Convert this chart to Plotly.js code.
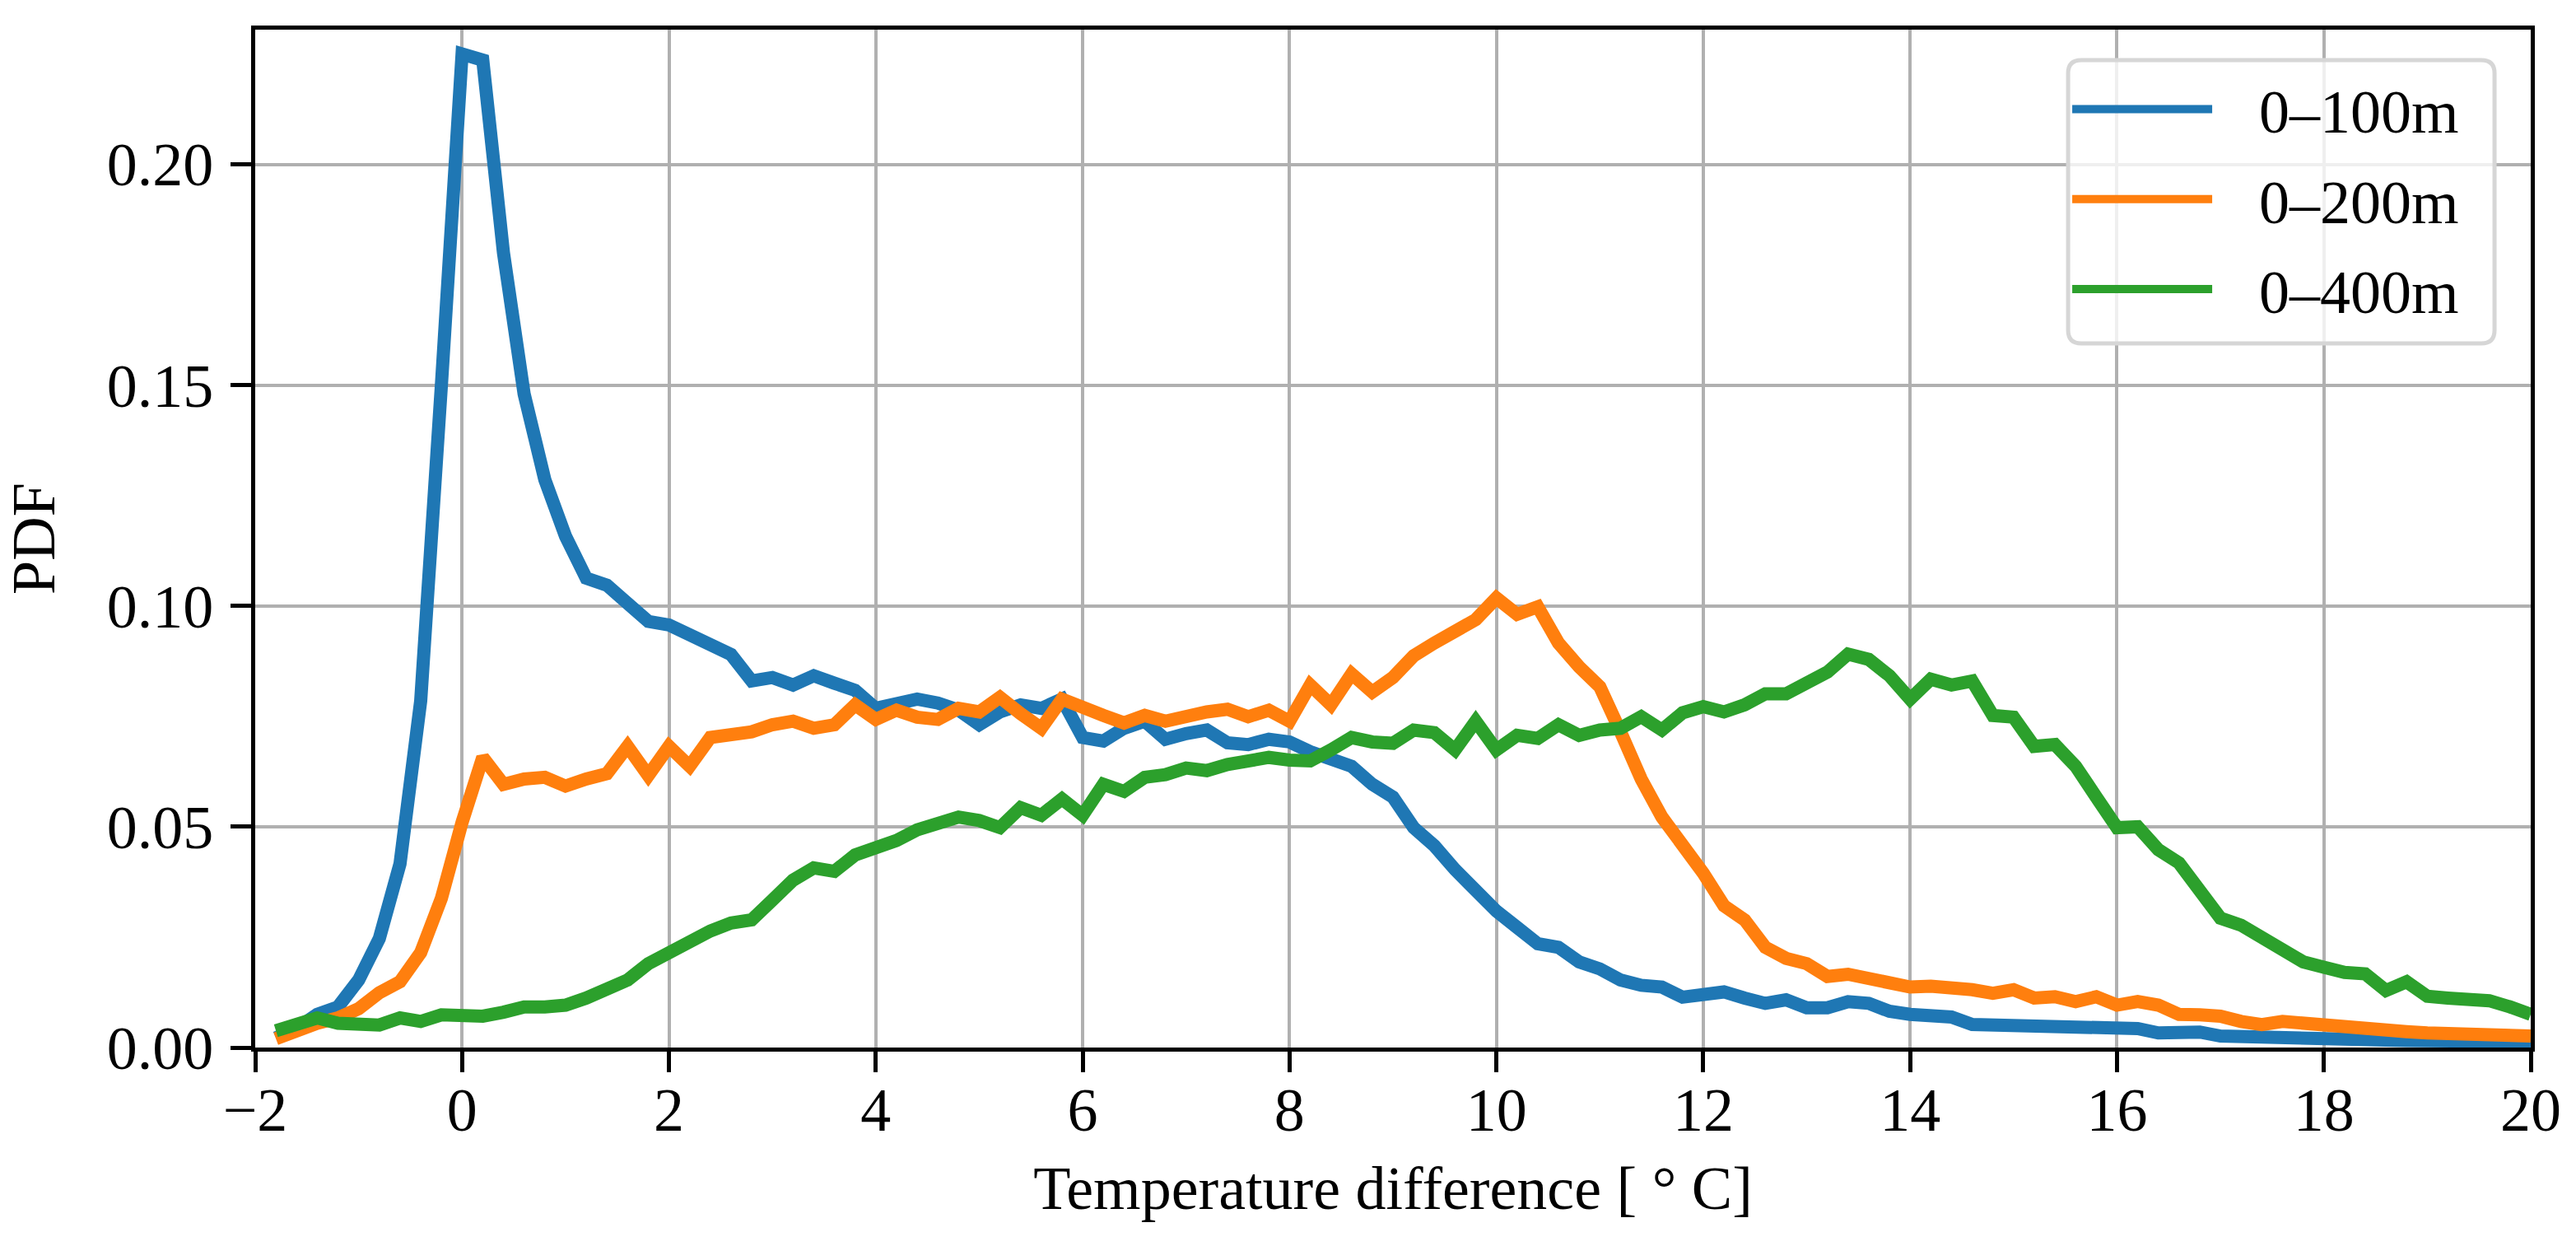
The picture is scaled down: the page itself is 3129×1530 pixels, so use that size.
<!DOCTYPE html>
<html>
<head>
<meta charset="utf-8">
<script src="https://cdn.plot.ly/plotly-3.0.1.min.js"></script>
<style>html,body{margin:0;padding:0;background:#fff;}#chart{width:3129px;height:1530px;}</style>
</head>
<body>
<div id="chart"></div>
<script>
const xValues = [-1.8,-1.6,-1.4,-1.2,-1.0,-0.8,-0.6,-0.4,-0.2,0.0,
  0.2,0.4,0.6,0.8,1.0,1.2,1.4,1.6,1.8,2.0,
  2.2,2.4,2.6,2.8,3.0,3.2,3.4,3.6,3.8,4.0,
  4.2,4.4,4.6,4.8,5.0,5.2,5.4,5.6,5.8,6.0,
  6.2,6.4,6.6,6.8,7.0,7.2,7.4,7.6,7.8,8.0,
  8.2,8.4,8.6,8.8,9.0,9.2,9.4,9.6,9.8,10.0,
  10.2,10.4,10.6,10.8,11.0,11.2,11.4,11.6,11.8,12.0,
  12.2,12.4,12.6,12.8,13.0,13.2,13.4,13.6,13.8,14.0,
  14.2,14.4,14.6,14.8,15.0,15.2,15.4,15.6,15.8,16.0,
  16.2,16.4,16.6,16.8,17.0,17.2,17.4,17.6,17.8,18.0,
  18.2,18.4,18.6,18.8,19.0,19.2,19.4,19.6,19.8,20.0];

const pdf0to100 = [0.0022,0.0043,0.0075,0.0092,0.0153,0.0247,0.0416,0.0785,0.150,0.225,
  0.2236,0.180,0.148,0.1286,0.1158,0.1063,0.1047,0.1010,0.0965,0.0957,
  0.0932,0.0912,0.0890,0.0830,0.0838,0.0821,0.0842,0.0825,0.0809,0.0768,
  0.0776,0.0789,0.0780,0.0764,0.0731,0.0760,0.0776,0.0768,0.0789,0.0702,
  0.0694,0.0723,0.0739,0.0698,0.0711,0.0719,0.0690,0.0686,0.0698,0.0692,
  0.0670,0.0657,0.0637,0.0596,0.0567,0.0498,0.0457,0.0403,0.0354,0.0309,
  0.0272,0.0235,0.0227,0.0194,0.0178,0.0153,0.0141,0.0137,0.0114,0.0118,
  0.0126,0.0112,0.0100,0.0108,0.0090,0.0090,0.0104,0.0100,0.0082,0.0075,
  0.0075,0.0069,0.0052,0.0051,0.0052,0.0051,0.0047,0.0045,0.0043,0.0041,
  0.0043,0.0033,0.0033,0.0035,0.0026,0.0024,0.0023,0.0023,0.0022,0.0021,
  0.0019,0.0018,0.0017,0.0016,0.0016,0.0015,0.0014,0.0014,0.0013,0.0013];

const pdf0to200 = [0.0020,0.0040,0.0055,0.0067,0.0088,0.0124,0.0149,0.0215,0.0338,0.0510,
  0.0657,0.0596,0.0608,0.0612,0.0592,0.0608,0.0620,0.0682,0.0616,0.0682,
  0.0637,0.0702,0.0707,0.0715,0.0731,0.0739,0.0723,0.0731,0.0776,0.0743,
  0.0764,0.0748,0.0743,0.0768,0.0760,0.0793,0.0756,0.0723,0.0789,0.0768,
  0.0752,0.0735,0.0752,0.0739,0.0752,0.0760,0.0766,0.0749,0.0764,0.0739,
  0.0821,0.0776,0.0846,0.0805,0.0838,0.0887,0.0916,0.0940,0.0969,0.1018,
  0.0981,0.0998,0.0916,0.0862,0.0817,0.0715,0.0608,0.0522,0.0460,0.0395,
  0.0321,0.0289,0.0227,0.0202,0.0190,0.0161,0.0166,0.0157,0.0145,0.0137,
  0.0139,0.0137,0.0131,0.0123,0.0131,0.0112,0.0115,0.0104,0.0115,0.0096,
  0.0104,0.0096,0.0075,0.0074,0.0071,0.0059,0.0052,0.0059,0.0055,0.0047,
  0.0041,0.0038,0.0036,0.0036,0.0033,0.0033,0.0032,0.0031,0.0028,0.0026];

const pdf0to400 = [0.0038,0.0055,0.0067,0.0055,0.0055,0.0051,0.0067,0.0059,0.0074,0.0071,
  0.0071,0.0080,0.0092,0.0092,0.0096,0.0112,0.0133,0.0153,0.0190,0.0215,
  0.0243,0.0264,0.0282,0.0289,0.0334,0.0379,0.0407,0.0399,0.0436,0.0452,
  0.0469,0.0493,0.0510,0.0522,0.0514,0.0498,0.0543,0.0526,0.0563,0.0526,
  0.0596,0.0580,0.0612,0.0618,0.0633,0.0627,0.0641,0.0651,0.0657,0.0651,
  0.0649,0.0674,0.0702,0.0692,0.0689,0.0719,0.0713,0.0674,0.0739,0.0674,
  0.0707,0.0700,0.0731,0.0707,0.0719,0.0723,0.0749,0.0719,0.0758,0.0772,
  0.0760,0.0776,0.0801,0.0801,0.0825,0.0850,0.0891,0.0879,0.0842,0.0789,
  0.0834,0.0821,0.0830,0.0752,0.0748,0.0682,0.0686,0.0637,0.0567,0.0498,
  0.0500,0.0448,0.0418,0.0358,0.0293,0.0277,0.0248,0.0219,0.0194,0.0182,
  0.0170,0.0167,0.0129,0.0149,0.0116,0.0112,0.0108,0.0106,0.0092,0.0075];

const seriesNames = ['0\u2013100m','0\u2013200m','0\u2013400m'];
const seriesColors = ['#1f77b4','#ff7f0e','#2ca02c'];
const seriesValues = [pdf0to100, pdf0to200, pdf0to400];

const FONT = 'Liberation Serif, Times New Roman, serif';
const FS = 74;

const traces = seriesValues.map((ys, i) => ({
  type: 'scatter',
  mode: 'lines',
  x: xValues,
  y: ys,
  name: '\u2002\u2009' + seriesNames[i],
  legendgroup: 'g' + i,
  line: {color: seriesColors[i], width: 16, shape: 'linear'},
  hoverinfo: 'skip'
}));

const axisCommon = {
  showgrid: true,
  gridcolor: '#b0b0b0',
  gridwidth: 4,
  zeroline: false,
  showline: true,
  linecolor: '#000',
  linewidth: 5,
  mirror: true,
  ticks: 'outside',
  ticklen: 25,
  tickwidth: 5,
  tickcolor: '#000',
  tickfont: {family: FONT, size: FS, color: '#000'},
  automargin: false
};

// legend frame (rounded, semi-transparent like the original)
const lx0 = 0.7967, lx1 = 0.9841, ly0 = 0.6917, ly1 = 0.9701;
const rx = 16 / 2764, ry = 16 / 1236;
const framePath = `M ${lx0 + rx},${ly1} L ${lx1 - rx},${ly1} Q ${lx1},${ly1} ${lx1},${ly1 - ry} ` +
  `L ${lx1},${ly0 + ry} Q ${lx1},${ly0} ${lx1 - rx},${ly0} L ${lx0 + rx},${ly0} ` +
  `Q ${lx0},${ly0} ${lx0},${ly0 + ry} L ${lx0},${ly1 - ry} Q ${lx0},${ly1} ${lx0 + rx},${ly1} Z`;

const layout = {
  width: 3129,
  height: 1530,
  paper_bgcolor: '#fff',
  plot_bgcolor: '#fff',
  margin: {l: 310, r: 55, t: 36, b: 258},
  font: {family: FONT, size: FS, color: '#000'},
  showlegend: true,
  legend: {
    x: 0.7967, y: 0.966, xanchor: 'left', yanchor: 'top',
    bgcolor: 'rgba(0,0,0,0)',
    borderwidth: 0,
    font: {family: FONT, size: FS, color: '#000'},
    tracegroupgap: 10,
    itemwidth: 170
  },
  shapes: [{
    type: 'path', xref: 'paper', yref: 'paper', layer: 'above',
    path: framePath,
    fillcolor: 'rgba(255,255,255,0.8)',
    line: {color: '#d6d6d6', width: 5}
  }],
  xaxis: Object.assign({}, axisCommon, {
    range: [-2, 20],
    tick0: -2,
    dtick: 2,
    ticklabelstandoff: -18,
    title: {text: 'Temperature difference [ \u00b0 C]', font: {family: FONT, size: FS, color: '#000'}, standoff: 30}
  }),
  yaxis: Object.assign({}, axisCommon, {
    range: [0, 0.2305],
    tick0: 0,
    dtick: 0.05,
    tickformat: '.2f',
    ticklabelstandoff: 6,
    title: {text: 'PDF', font: {family: FONT, size: FS, color: '#000'}, standoff: 40}
  })
};

Plotly.newPlot('chart', traces, layout, {staticPlot: true, displayModeBar: false});
</script>
</body>
</html>
